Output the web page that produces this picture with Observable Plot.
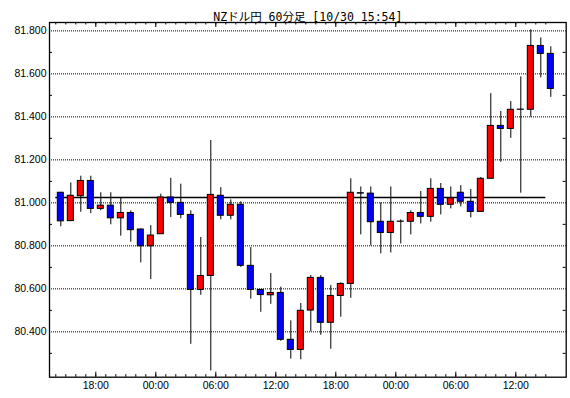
<!DOCTYPE html>
<html><head><meta charset="utf-8">
<script src="https://cdn.jsdelivr.net/npm/d3@7"></script>
<script src="https://cdn.jsdelivr.net/npm/@observablehq/plot@0.6"></script>
<style>body{margin:0;background:#fff}</style>
</head><body><div id="chart"></div>
<script>
const titleText = "NZドル円 60分足 [10/30 15:54]";
// first bar centre (hours since 10/29 00:00); one bar per hour
const startHour = 14.5;
const opens = [81.047,80.915,81.031,81.102,80.972,80.987,80.928,80.953,80.876,80.798,80.854,81.025,81.000,80.944,80.595,80.660,81.033,80.940,80.991,80.707,80.595,80.570,80.581,80.363,80.316,80.499,80.651,80.442,80.567,80.623,81.045,81.043,80.912,80.860,80.912,80.912,80.953,80.935,81.065,80.991,81.047,81.005,80.958,81.112,81.358,81.344,81.433,81.433,81.730,81.693];
const closes = [80.914,81.033,81.102,80.972,80.987,80.928,80.953,80.873,80.798,80.848,81.025,81.000,80.944,80.595,80.660,81.037,80.940,80.991,80.707,80.595,80.571,80.581,80.363,80.316,80.498,80.651,80.442,80.567,80.623,81.047,81.043,80.910,80.860,80.912,80.913,80.953,80.935,81.065,80.991,81.021,81.005,80.958,81.112,81.358,81.344,81.433,81.434,81.730,81.693,81.530];
const highs = [81.049,81.093,81.124,81.124,81.047,81.047,81.021,80.963,80.879,80.894,81.040,81.114,81.087,80.963,80.839,81.290,81.071,81.014,81.005,80.792,80.595,80.671,80.608,80.451,80.532,80.662,80.662,80.615,80.628,81.112,81.074,81.074,81.000,81.074,80.921,80.963,81.053,81.112,81.090,81.074,81.080,81.062,81.118,81.508,81.425,81.471,81.586,81.805,81.767,81.726];
const lows = [80.889,80.915,80.956,80.950,80.963,80.898,80.845,80.817,80.721,80.643,80.854,80.932,80.926,80.342,80.570,80.218,80.921,80.921,80.700,80.552,80.491,80.528,80.356,80.273,80.270,80.400,80.384,80.319,80.468,80.556,80.851,80.800,80.763,80.767,80.809,80.851,80.902,80.910,80.944,80.972,80.981,80.930,80.958,81.112,81.189,81.300,81.045,81.398,81.581,81.491];
const refLevel = 81.025;
const refStart = 14, refEnd = 63;
const xTickHours = [18,24,30,36,42,48,54,60];
const xTickLabels = ["18:00","00:00","06:00","12:00","18:00","00:00","06:00","12:00"];
const hourMinor = d3.range(14, 64);
const yGrid = [80.4,80.6,80.8,81.0,81.2,81.4,81.6,81.8];
const yMinor = [80.3,80.5,80.7,80.9,81.1,81.3,81.5,81.7];

const W = 570, H = 398, mL = 49, mR = 4.3, mT = 22, mB = 21.3;
const frameW = W - mL - mR, frameH = H - mT - mB;

const candles = opens.map((o, i) => ({
  t: startHour + i, open: o, close: closes[i], high: highs[i], low: lows[i],
  dir: closes[i] >= o ? "up" : "down"
}));

const chart = Plot.plot({
  width: W, height: H,
  marginLeft: mL, marginRight: mR, marginTop: mT, marginBottom: mB,
  style: {fontFamily: "'Liberation Sans', Arial, sans-serif", fontSize: "10.5px", background: "#fff", color: "#000", overflow: "visible"},
  x: {domain: [13.37, 65.04], ticks: xTickHours, tickFormat: d => xTickLabels[xTickHours.indexOf(d)], tickSize: 0, tickPadding: 4, label: null},
  y: {domain: [80.189, 81.839], ticks: yGrid, tickFormat: d3.format(".3f"), tickSize: 0, tickPadding: 3, label: null},
  color: {domain: ["up", "down"], range: ["#ff0000", "#0000ff"]},
  marks: [
    Plot.ruleY(yGrid, {stroke: "#000", strokeDasharray: "1,1"}),
    Plot.ruleY(yMinor, {stroke: "#000", insetRight: frameW - 3}),
    Plot.ruleY(yMinor, {stroke: "#000", insetLeft: frameW - 3}),
    Plot.ruleX(hourMinor, {stroke: "#000", insetTop: frameH - 2.5}),
    Plot.ruleX(hourMinor, {stroke: "#000", insetBottom: frameH - 2.5}),
    Plot.ruleX(xTickHours, {stroke: "#000", insetTop: frameH - 5}),
    Plot.ruleX(xTickHours, {stroke: "#000", insetBottom: frameH - 5}),
    Plot.ruleY([refLevel], {x1: refStart, x2: refEnd, stroke: "#000", strokeWidth: 1.3}),
    Plot.ruleX(candles, {x: "t", y1: "low", y2: "high", stroke: "#000", strokeWidth: 1}),
    Plot.rect(candles, {x1: d => d.t - 0.3, x2: d => d.t + 0.3, y1: "open", y2: "close", fill: "dir", stroke: "#000", strokeWidth: 1}),
    Plot.frame({stroke: "#000", strokeWidth: 1.3}),
    Plot.text([titleText], {text: d => d, frameAnchor: "top", dy: -10, fontSize: 11.5, fontFamily: "'DejaVu Sans Mono', 'Noto Sans CJK JP', monospace", fill: "#000"})
  ]
});
document.getElementById("chart").appendChild(chart);
</script>
</body></html>
